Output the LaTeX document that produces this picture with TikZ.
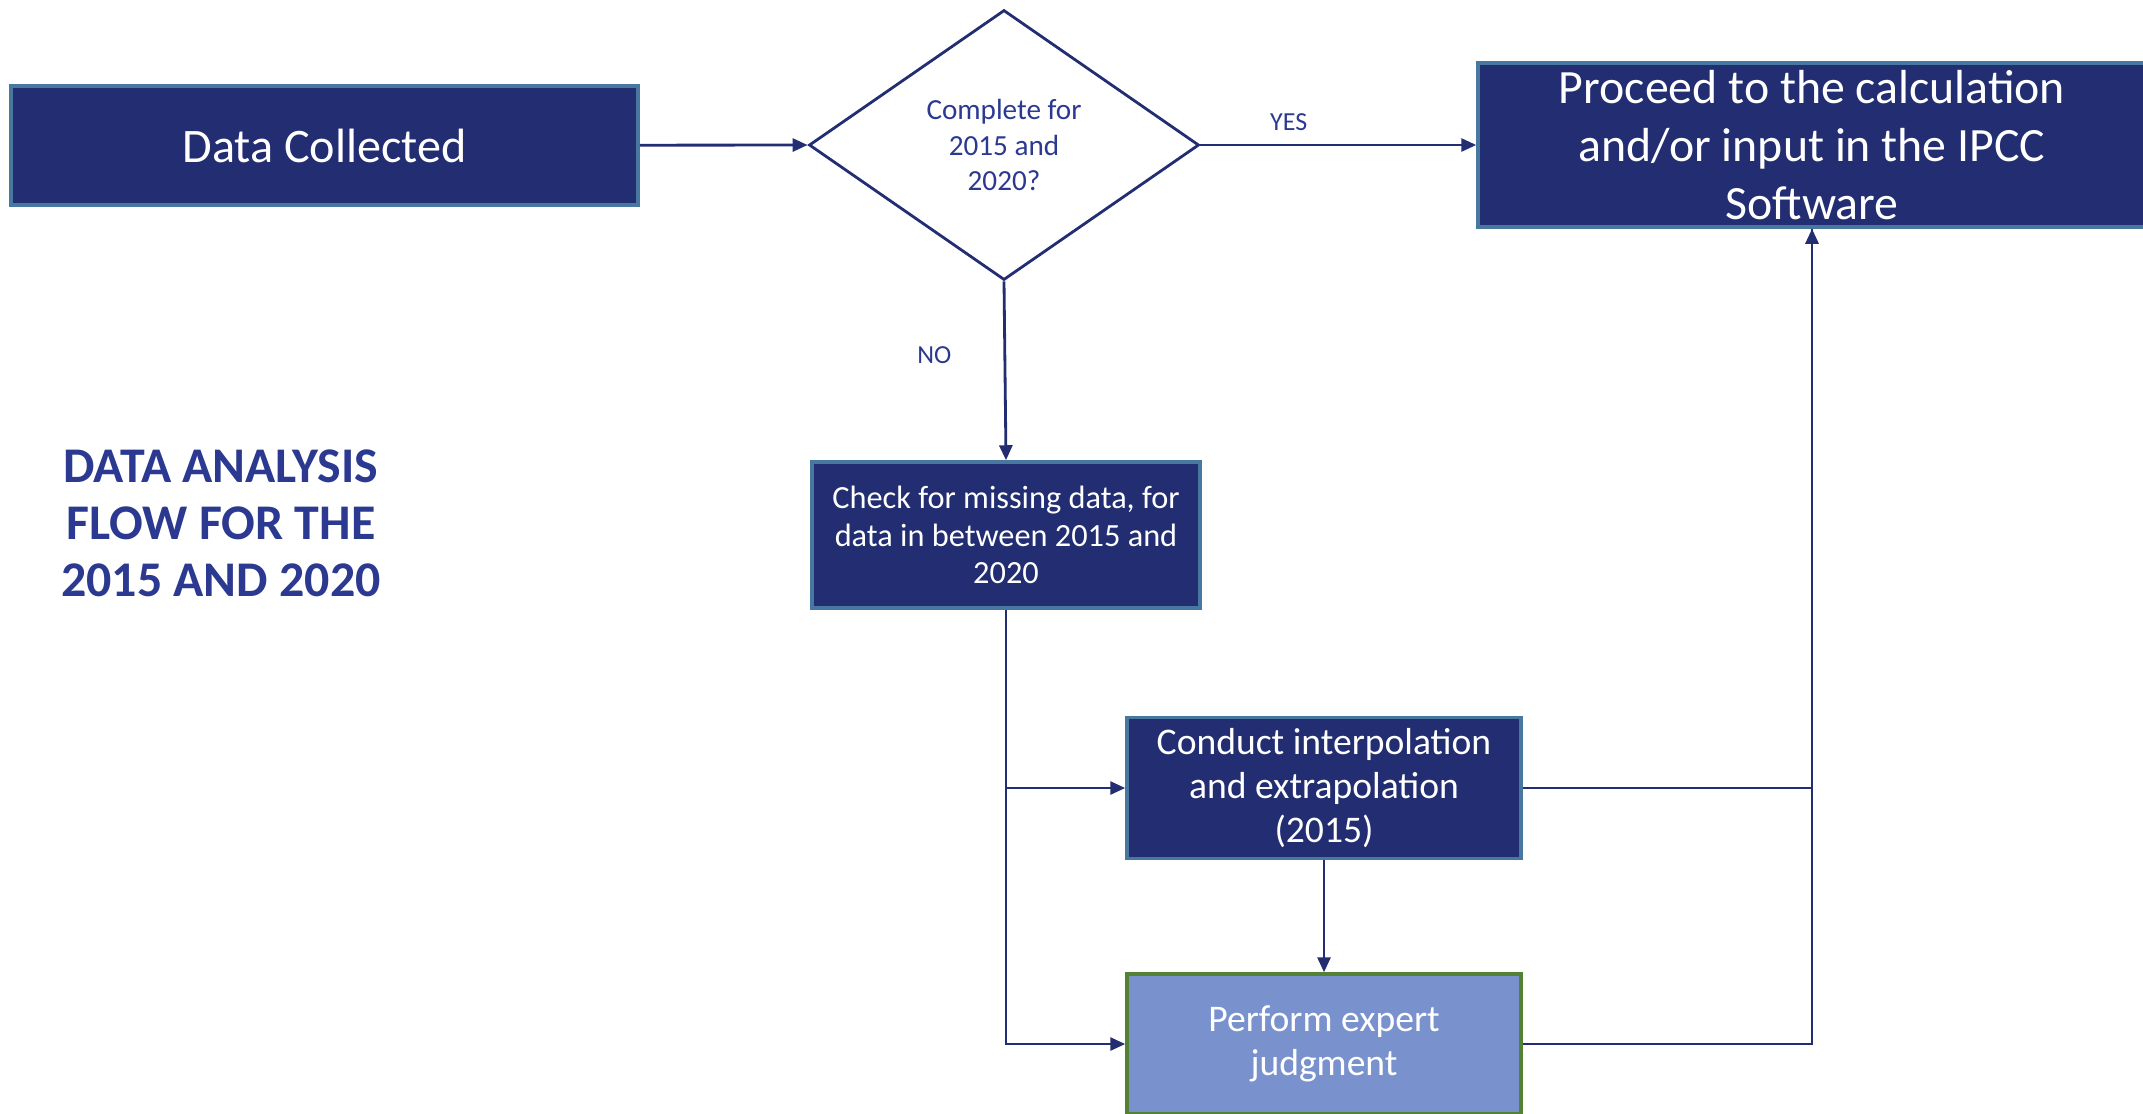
\documentclass[tikz,border=0pt]{standalone}
\usepackage{fontspec}
\setmainfont{Carlito}
\usetikzlibrary{shapes.geometric,arrows.meta}

\definecolor{navy}{RGB}{34,45,114}
\definecolor{edgeblue}{RGB}{72,120,160}
\definecolor{titleblue}{RGB}{43,57,144}
\definecolor{paleblue}{RGB}{121,146,206}
\definecolor{edgegreen}{RGB}{84,130,53}

\begin{document}
\begin{tikzpicture}[
  box/.style={draw=edgeblue, line width=1pt, fill=navy, text=white, align=center, inner sep=0pt},
  arr/.style={-{Triangle[length=1.5mm,width=1.3mm]}, navy, line width=0.8pt},
  ln/.style={navy, line width=0.8pt},
  lbl/.style={text=titleblue, font=\fontsize{7.4}{9}\selectfont, inner sep=0pt}
]
\useasboundingbox (0,0) rectangle (21.43,-11.13);

% nodes
\node[box, minimum width=6.27cm, minimum height=1.19cm, font=\fontsize{13.7}{16}\selectfont] (collected) at (3.245,-1.455) {Data Collected};
\node[diamond, draw=navy, line width=0.8pt, minimum width=3.9cm, minimum height=2.7cm, inner sep=0pt, align=center, text=titleblue, font=\fontsize{8.3}{10}\selectfont] (complete) at (10.04,-1.45) {Complete for\\2015 and\\2020?};
\node[box, minimum width=6.68cm, minimum height=1.64cm, font=\fontsize{13.6}{16.5}\selectfont] (proceed) at (18.12,-1.45) {Proceed to the calculation\\and/or input in the IPCC\\Software};

\node[box, minimum width=3.88cm, minimum height=1.46cm, font=\fontsize{9.2}{10.7}\selectfont] (check) at (10.06,-5.35) {Check for missing data, for\\data in between 2015 and\\2020};
\node[box, minimum width=3.94cm, minimum height=1.41cm, font=\fontsize{10.7}{12.5}\selectfont] (interp) at (13.24,-7.88) {Conduct interpolation\\and extrapolation\\(2015)};
\node[box, draw=edgegreen, fill=paleblue, minimum width=3.94cm, minimum height=1.40cm, font=\fontsize{10.7}{12.5}\selectfont] (expert) at (13.24,-10.44) {Perform expert\\judgment};

\node[align=center, text=titleblue, font=\fontsize{14.2}{16.2}\selectfont\bfseries] (title) at (2.21,-5.23) {DATA ANALYSIS\\FLOW FOR THE\\2015 AND 2020};

% arrows
\draw[arr] (collected) -- (complete.west);
\draw[arr] (complete.east) -- node[lbl, above=1.3mm, pos=0.32]{YES} (proceed.west);
\draw[arr] (complete.south) -- node[lbl, left=0.52cm, pos=0.41]{NO} (check.north);

\draw[arr] (check.south) |- (expert.west);
\draw[arr] (check.south |- interp.west) -- (interp.west);
\draw[arr] (interp.south) -- (expert.north);

\draw[ln] (interp.east) -| (proceed.south);
\draw[arr] (expert.east) -| (proceed.south);

\end{tikzpicture}
\end{document}
